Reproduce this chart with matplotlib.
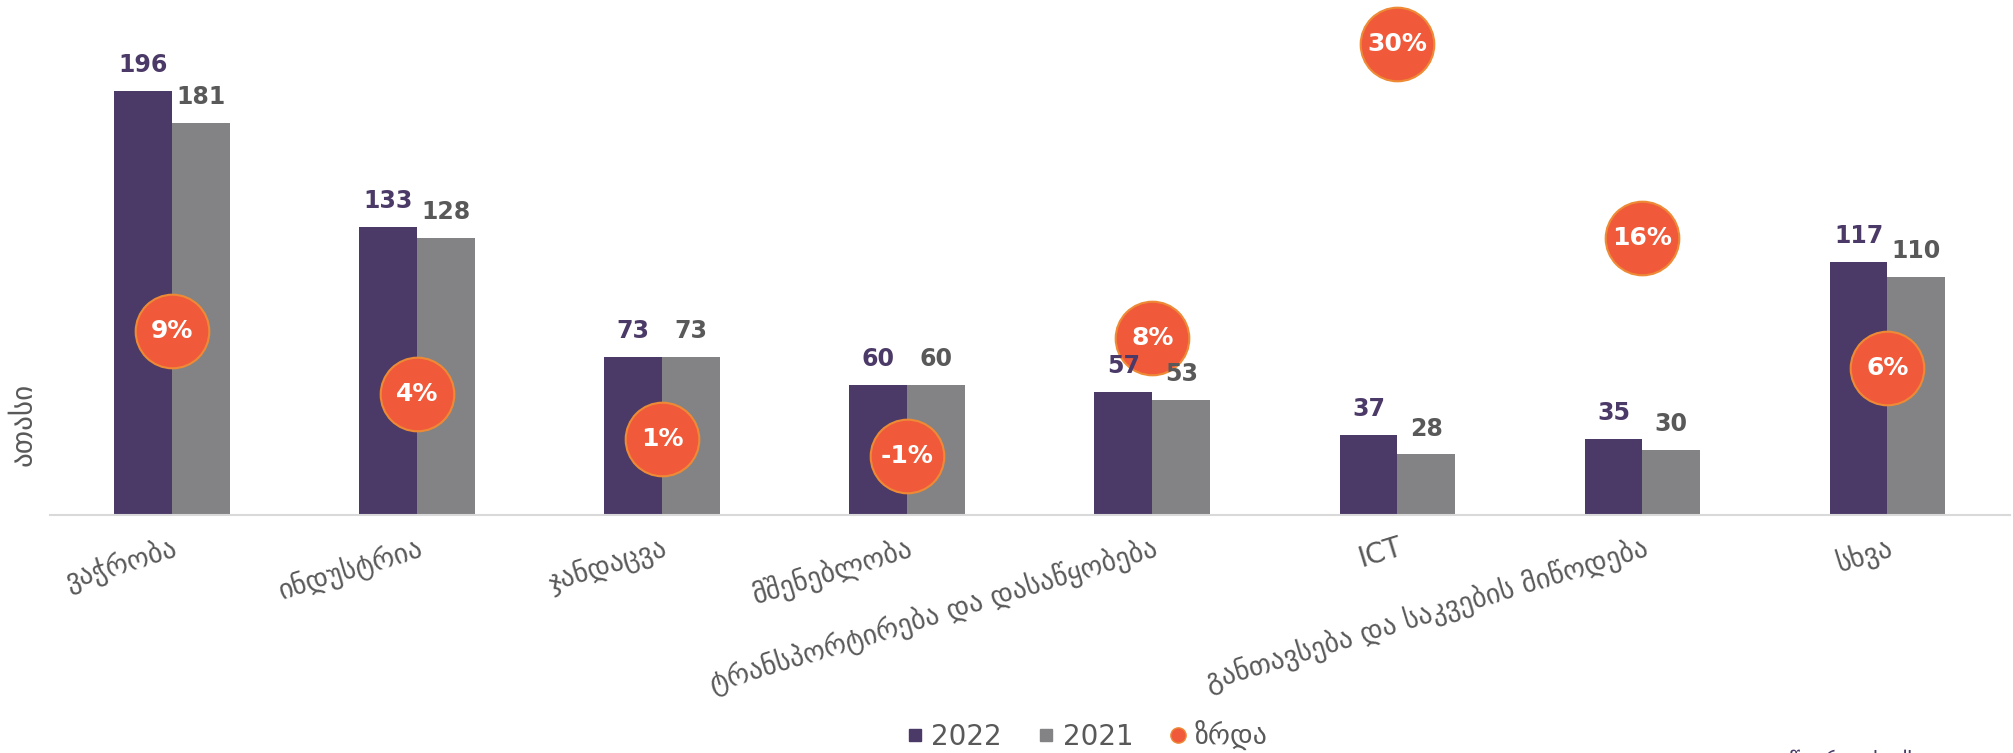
import matplotlib
matplotlib.use("Agg")
import matplotlib.pyplot as plt
from matplotlib.lines import Line2D
import numpy as np

plt.rcParams['font.family'] = ['DejaVu Sans']

categories = ["ვაჭრობა", "ინდუსტრია", "ჯანდაცვა", "მშენებლობა",
              "ტრანსპორტირება და დასაწყობება", "ICT",
              "განთავსება და საკვების მიწოდება", "სხვა"]
values_2022 = [196, 133, 73, 60, 57, 37, 35, 117]
values_2021 = [181, 128, 73, 60, 53, 28, 30, 110]
growth = [8.9, 4.3, 1.0, -0.3, 8.4, 30.0, 15.7, 6.2]
growth_labels = ["9%", "4%", "1%", "-1%", "8%", "30%", "16%", "6%"]

C22 = "#4B3A67"
C21 = "#838385"
CG = "#F05A3A"
CGE = "#EE8A35"
TXT = "#595959"

fig = plt.figure(figsize=(20.13, 7.53), dpi=100)
ax = fig.add_axes([49.5 / 2013, 1 - 515 / 753, 1960.5 / 2013, 515 / 753])

x = np.arange(len(categories))
w = 0.236
ax.bar(x - w / 2, values_2022, w, color=C22, zorder=2)
ax.bar(x + w / 2, values_2021, w, color=C21, zorder=2)

ax.set_xlim(-0.5, len(categories) - 0.5)
ax.set_ylim(0, 238)
ax.set_yticks([])
for s in ["top", "right", "left"]:
    ax.spines[s].set_visible(False)
ax.spines["bottom"].set_color("#D9D9D9")
ax.spines["bottom"].set_linewidth(1.5)
ax.set_xticks(x)
ax.set_xticklabels(categories, rotation=17, ha="right", rotation_mode="anchor",
                   fontsize=20, color=TXT)
ax.tick_params(axis="x", length=0, pad=13)

fig.text(23 / 2013, 1 - 424 / 753, "ათასი", rotation=90, ha="center", va="center",
         fontsize=21, color=TXT)

ax2 = ax.twinx()
ax2.set_ylim(-4.6, 33.2)
ax2.set_yticks([])
for s in ax2.spines.values():
    s.set_visible(False)
ax2.scatter(x, growth, s=53 ** 2, color=CG, edgecolors=CGE, linewidths=1.5,
            zorder=3, clip_on=False)
for xi, g, lab in zip(x, growth, growth_labels):
    ax2.text(xi, g, lab, ha="center", va="center", fontsize=18, fontweight="bold",
             color="white", zorder=4)

for xi, v in zip(x, values_2022):
    ax2.annotate(str(v), (xi - w / 2, v), xycoords=ax.transData, xytext=(0, 10),
                 textcoords="offset points", ha="center", va="bottom",
                 fontsize=17, fontweight="bold", color=C22, zorder=5)
for xi, v in zip(x, values_2021):
    ax2.annotate(str(v), (xi + w / 2, v), xycoords=ax.transData, xytext=(0, 10),
                 textcoords="offset points", ha="center", va="bottom",
                 fontsize=17, fontweight="bold", color=TXT, zorder=5)

handles = [
    Line2D([], [], marker="s", linestyle="none", markersize=8, color=C22),
    Line2D([], [], marker="s", linestyle="none", markersize=8, color=C21),
    Line2D([], [], marker="o", linestyle="none", markersize=11,
           markerfacecolor=CG, markeredgecolor=CGE),
]
fig.legend(handles, ["2022", "2021", "ზრდა"], loc="center",
           bbox_to_anchor=(0.54, 0.0226), ncol=3, frameon=False, fontsize=20,
           handlelength=0.6, handletextpad=0.3, columnspacing=1.3,
           labelcolor=TXT)

fig.text(0.979, 0.004, "წყარო: საქსტატი", ha="right", va="top", fontsize=16,
         color=C22)

fig.savefig("out.png", dpi=100)
